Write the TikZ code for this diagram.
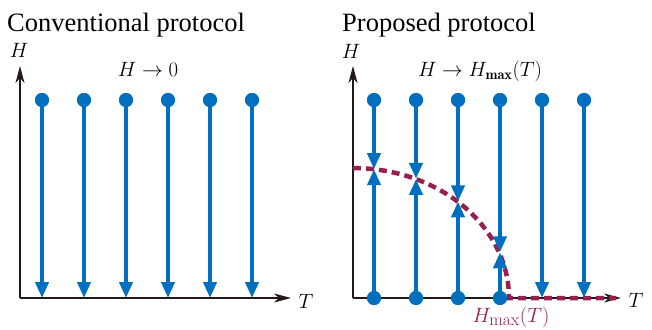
\documentclass[tikz,border=0pt]{standalone}
\usepackage{fontspec}
\newfontfamily\titlefont{Liberation Serif}
\usetikzlibrary{arrows.meta}
\definecolor{pblue}{RGB}{0,112,190}
\definecolor{pred}{RGB}{150,32,82}
\definecolor{axcol}{RGB}{35,24,21}
\newcommand{\hmaxsub}[1]{H_{\mbox{\fontsize{17.5}{20}\selectfont #1}}}
\begin{document}
\begin{tikzpicture}[x=1pt,y=-1pt,
  axis/.style={draw=axcol, line width=1.2pt, -{Stealth[length=17pt,width=9pt,inset=5pt]}},
  flow/.style={draw=pblue, line width=4.5pt, -{Triangle[length=16pt,width=13pt]}, shorten >=-1pt},
  pdot/.style={circle, fill=pblue, inner sep=0pt, minimum size=14pt},
  ttl/.style={font=\titlefont\fontsize{26.5}{30}\selectfont, anchor=base west, inner sep=0pt},
  lbl/.style={font=\fontsize{20.5}{24}\selectfont, anchor=base, inner sep=0pt},
  hmax/.style={draw=pred, line width=4.5pt, dash pattern=on 8pt off 5pt}]
\useasboundingbox (0,0) rectangle (652,329);
% titles
\node[ttl] (t1) at (7,31) {Conventional protocol};
\node[ttl] (t2) at (342,31) {Proposed protocol};
% ---------- left panel ----------
\coordinate (lo) at (20,298);
\coordinate (ly) at (20,66);
\coordinate (lx) at (291,298);
\draw[axis] (lo) -- (ly);
\draw[axis] (lo) -- (lx);
\node[lbl] (lH) at (19,57) {$H$};
\node[lbl] (lT) at (306,308) {$T$};
\node[lbl] (lrule) at (148,76) {$H\rightarrow 0$};
\foreach \i/\x in {1/42,2/84,3/126,4/168,5/210,6/252}{
  \coordinate (lb\i) at (\x,297);
  \node[pdot] (l\i) at (\x,100) {};
  \draw[flow] (l\i.center) -- (lb\i);
  \node[pdot] at (l\i) {};
}
% ---------- right panel ----------
\coordinate (ro) at (353,298);
\coordinate (ry) at (353,66);
\coordinate (rx) at (621,298);
\draw[axis] (ro) -- (ry);
\draw[axis] (ro) -- (rx);
\node[lbl] (rH) at (351,58) {$H$};
\node[lbl] (rT) at (636,307) {$T$};
\node[lbl] (rrule) at (480,76) {$H\rightarrow H_{\mathbf{max}}(T)$};
\node[lbl, text=pred] (hl) at (511,322) {$\hmaxsub{max}(T)$};
% boundary curve
\coordinate (ce) at (616,298);
\draw[hmax] plot[domain=0:90, samples=40] ({353+156*sin(\x)}, {298-130*cos(\x)}) -- (ce);
% columns 1-4 : arrows meeting at the curve
\foreach \i/\x/\y in {1/374/169.2,2/416/178.9,3/458/201.4,4/500/252.3}{
  \coordinate (c\i) at (\x,\y);
  \node[pdot] (r\i) at (\x,100) {};
  \node[pdot] (b\i) at (\x,298) {};
  \draw[flow, shorten >=0pt] (r\i.center) -- (c\i);
  \draw[flow, shorten >=0pt] (b\i.center) -- (c\i);
  \node[pdot] at (r\i) {};
  \node[pdot] at (b\i) {};
}
% columns 5-6 : down to axis
\foreach \i/\x in {5/542,6/584}{
  \coordinate (rb\i) at (\x,297);
  \node[pdot] (r\i) at (\x,100) {};
  \draw[flow] (r\i.center) -- (rb\i);
  \node[pdot] at (r\i) {};
}
\end{tikzpicture}
\end{document}
